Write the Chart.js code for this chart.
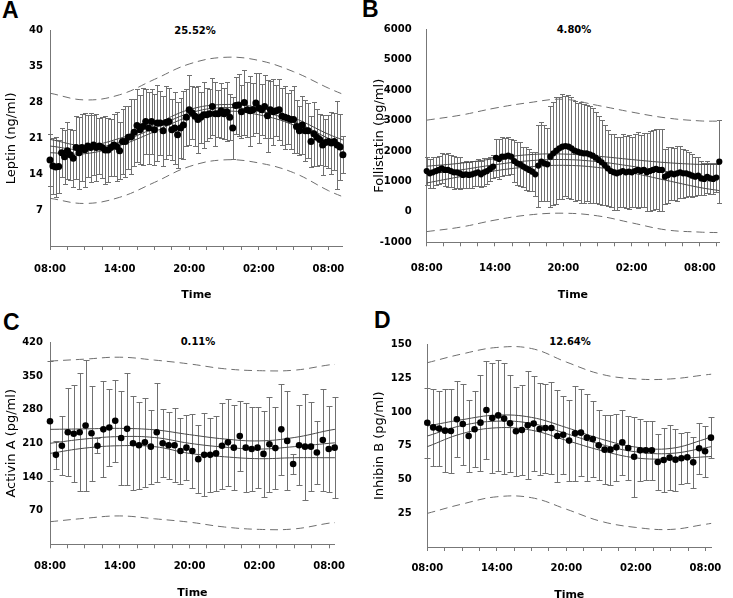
<!DOCTYPE html>
<html><head><meta charset="utf-8">
<script src="https://cdn.jsdelivr.net/npm/chart.js@4.4.1/dist/chart.umd.min.js"></script>
<style>
html,body{margin:0;padding:0;background:#fff;overflow:hidden;width:733px;height:598px;position:relative;}
canvas{position:absolute;}
.letter{position:absolute;font-family:'Liberation Sans',Arial,sans-serif;font-weight:bold;font-size:23px;line-height:1;color:#000;}
.pct{position:absolute;font-family:'DejaVu Sans',sans-serif;font-size:10px;font-weight:bold;transform:translate(-50%,-50%);white-space:nowrap;color:#000;}
</style></head><body>
<div class="letter" style="left:2px;top:-1px">A</div>
<div class="letter" style="left:362px;top:-2px">B</div>
<div class="letter" style="left:3px;top:311px">C</div>
<div class="letter" style="left:374px;top:309px">D</div>
<div class="pct" style="left:195px;top:30px">25.52%</div>
<div class="pct" style="left:574px;top:29px">4.80%</div>
<div class="pct" style="left:198px;top:341px">0.11%</div>
<div class="pct" style="left:570px;top:341px">12.64%</div>
<script>
// ---------- shared axis labels ----------
const timeLabels = ['08:00','14:00','20:00','02:00','08:00'];
const xTickHours = [0,1.5,3,4.5,6,7.5,9,10.5,12,13.5,15,16.5,18,19.5,21,22.5,24,25.5];

// ---------- A: Leptin ----------
const leptinTitle = 'Leptin (ng/ml)';
const leptinYTicks = [0,7,14,21,28,35,42];
const leptinYLabels = ['','7','14','21','28','35','40'];
const leptinStep = 0.25;
const leptinMean = [16.8,15.6,15.4,15.5,18.2,17.4,18.6,17.8,17.1,19.2,18.2,19.2,18.8,19.5,19.2,19.7,19.2,19.5,19.2,18.75,18.75,19.2,19.7,19.4,18.6,20.4,20.4,21.2,21.3,22.2,23.5,22.7,23.3,24.3,
 23.0,24.3,22.7,24.0,24.0,22.5,24.1,24.3,22.7,23.0,21.7,23.0,23.6,25.1,26.6,26.0,25.3,24.7,25.1,25.6,25.6,25.8,27.2,25.8,25.8,26.4,25.8,26.2,25.1,23.0,27.4,27.5,26.2,28.0,
 26.6,26.4,26.6,27.9,26.9,26.6,27.2,25.4,26.6,26.2,26.4,26.6,25.3,25.1,24.9,24.7,24.7,23.3,22.5,23.6,22.5,22.5,20.4,21.9,21.2,20.8,19.7,20.2,20.4,20.1,20.4,19.7,19.3,17.8];
const leptinSD = [5.0,5.4,5.8,5.2,4.8,5.3,5.6,5.0,5.5,6.2,7.0,6.5,7.2,6.0,6.8,5.8,6.5,5.5,6.0,6.6,6.2,5.5,6.0,6.8,5.6,6.4,7.0,6.2,7.3,6.5,
 7.2,6.8,7.5,6.4,7.0,6.3,6.9,7.4,6.2,6.8,7.2,6.5,6.0,7.0,6.4,5.8,6.6,5.5,6.8,5.2,5.8,6.5,5.0,6.4,5.2,4.8,5.5,6.2,4.6,5.4,
 5.0,5.8,4.5,6.0,5.5,6.0,5.2,6.3,5.4,6.8,5.2,5.8,6.8,5.0,6.2,7.0,5.5,6.4,5.0,6.0,5.5,6.2,5.0,5.8,6.5,5.2,4.8,5.6,6.0,5.4,
 5.0,6.2,5.5,5.0,5.8,4.5,5.2,6.0,5.6,8.5,6.5,3.6];
const leptinFitHours = [0,3,6,9,12,15,18,21,24,25.25];
const leptinCIUpper = [20.8,19.6,21.0,23.7,26.6,27.6,27.0,25.0,21.8,20.7];
const leptinFit = [19.5,18.8,20.3,23.0,25.9,27.0,26.3,24.3,21.0,19.8];
const leptinCILower = [18.2,18.0,19.6,22.3,25.2,26.3,25.6,23.6,20.2,18.9];
const leptinPBUpper = [29.8,28.5,29.5,32.5,35.5,36.8,36.2,34.0,30.8,29.6];
const leptinPBLower = [9.3,8.3,9.5,12.4,15.5,16.8,16.2,14.3,10.8,9.6];

// ---------- B: Follistatin ----------
const follTitle = 'Follistatin (pg/ml)';
const follYTicks = [-1000,0,1000,2000,3000,4000,5000,6000];
const follYLabels = ['-1000','0','1000','2000','3000','4000','5000','6000'];
const follStep = 0.265;
const follMean = [1340,1268,1300,1340,1377,1432,1377,1377,1340,1300,1300,1268,1213,1235,1213,1235,1268,1300,1235,1300,1340,1410,1486,1778,1740,1815,1815,1848,1815,
 1672,1596,1563,1487,1432,1377,1321,1235,1520,1651,1596,1563,1815,1925,2012,2089,2143,2165,2143,2089,2012,1980,1947,1925,1925,1892,1848,1782,1706,1629,1541,1432,1344,1300,1268,
 1300,1344,1300,1321,1300,1344,1377,1344,1377,1300,1344,1377,1410,1377,1377,1158,1213,1268,1235,1268,1300,1268,1268,1235,1190,1158,1190,1100,1082,1150,1100,1082,1130,1651];
const follSD = [470,480,500,460,470,490,540,560,520,540,500,520,430,450,420,440,410,450,430,460,420,400,380,620,660,640,600,620,580,
 680,700,720,660,700,680,650,720,1350,1300,1250,1200,1650,1700,1750,1680,1720,1650,1700,1680,1640,1600,1650,1620,1580,1600,1550,1500,1450,1400,1300,1250,1200,1250,1200,
 1150,1200,1180,1220,1150,1200,1250,1180,1230,1280,1300,1330,1320,1350,1340,900,920,880,860,900,850,800,780,720,700,650,620,560,540,520,500,510,480,1360];
const follFitHours = [0,3,6,9,12,15,18,21,24,25.7];
const follCIUpper = [1500,1600,1750,1880,1900,1830,1720,1620,1560,1560];
const follFit = [1230,1380,1550,1680,1720,1650,1500,1330,1180,1120];
const follCILower = [950,1160,1350,1480,1530,1460,1280,1040,800,700];
const follPBUpper = [3014,3180,3410,3590,3700,3500,3280,3090,2990,2981];
const follPBLower = [-649,-500,-270,-100,-44,-130,-360,-590,-665,-682];

// ---------- C: Activin A ----------
const actTitle = 'Activin A (pg/ml)';
const actYTicks = [0,70,140,210,280,350,420];
const actYLabels = ['','70','140','210','280','350','420'];
const actStep = 0.51;
const actMean = [256,186,205,233,230,233,247,231,205,239,243,257,221,240,210,206,212,203,
 233,210,206,206,194,201,194,177,186,186,189,205,212,201,225,201,198,201,
 188,208,200,239,215,167,206,203,203,191,217,198,201];
const actSD = [125,29,61,92,101,123,136,99,15,100,80,85,97,116,98,90,92,77,
 103,71,70,77,69,67,76,71,86,77,78,89,90,88,72,92,88,84,
 90,99,85,94,103,20,83,110,92,66,106,90,105];
const actFitHours = [0,3,6,9,12,15,18,21,24,24.5];
const actCIUpper = [239,240,241,238,228,219,215,222,237,239];
const actFit = [210,219,224,222,210,202,198,203,210,211];
const actCILower = [189,200,205,203,189,182,178,180,180,180];
const actPBUpper = [381,385,389,383,375,365,361,362,373,374];
const actPBLower = [47,54,59,53,46,36,31,32,44,45];

// ---------- D: Inhibin B ----------
const inhTitle = 'Inhibin B (pg/ml)';
const inhYTicks = [0,25,50,75,100,125,150];
const inhYLabels = ['','25','50','75','100','125','150'];
const inhStep = 0.51;
const inhMean = [92,88.6,87.7,86.2,85.9,94.6,91.1,82.2,87.2,92.1,101.5,95.6,97.5,95.1,91.6,85.7,86.7,90.1,91.4,87.4,
 88.1,88.1,82.2,83.2,78.8,84.2,84.7,81,80,75.3,72.1,72.1,73.8,77.5,73.3,66.9,71.6,71.6,71.6,63,
 64.4,66.2,64.7,65.7,66.4,62.7,73.1,70.9,81];
const inhSD = [26,28.6,27.5,31,31,28,30,27,28,35.5,36,41,41,41,36,33,33,40,35,34,
 33,34,34,29,30,35,32,32,28,26,25.5,26,25,24,24,29.5,23,22,21.6,21,
 24,24,23,19,19,19,19,19,15];
const inhFitHours = [0,3,6,9,12,15,18,21,24,24.5];
const inhCIUpper = [89.6,94.3,97.7,96,88.5,80,74,73,80,82];
const inhFit = [82.2,90,93.2,91.5,84,76,70.5,69.3,73.5,74.3];
const inhCILower = [74.3,84,88.3,86.5,79,71.5,66,65.3,66.8,67];
const inhPBUpper = [136.5,143,147.8,147,137,128,124.5,124.5,127.5,128];
const inhPBLower = [24.9,31.8,37.2,36.5,28,19,14.5,13,16.8,17.5];

// ---------- drawing ----------
const errorBarPlugin = {
  id: 'errorBars',
  beforeDatasetsDraw(chart) {
    const ds = chart.data.datasets[0];
    if (!ds.sd) return;
    const {ctx} = chart, xs = chart.scales.x, ys = chart.scales.y;
    const cap = ds.capHalf;
    ctx.save();
    ctx.strokeStyle = '#707070';
    ctx.lineWidth = 1;
    ctx.beginPath();
    ds.data.forEach((p, i) => {
      const px = Math.round(xs.getPixelForValue(p.x)) + 0.5;
      const y1 = Math.round(ys.getPixelForValue(p.y + ds.sd[i])) + 0.5;
      const y2 = Math.round(ys.getPixelForValue(p.y - ds.sd[i])) + 0.5;
      ctx.moveTo(px, y1); ctx.lineTo(px, y2);
      ctx.moveTo(px - cap, y1); ctx.lineTo(px + cap, y1);
      ctx.moveTo(px - cap, y2); ctx.lineTo(px + cap, y2);
    });
    ctx.stroke();
    ctx.restore();
  }
};

const FONT = "'DejaVu Sans', sans-serif";
function pairs(xs, ys) { return xs.map((x, i) => ({x: x, y: ys[i]})); }
function curve(data, dashed) {
  return {type: 'line', data: data, borderColor: dashed ? '#6e6e6e' : '#4a4a4a', borderWidth: 1,
    borderDash: dashed ? [8, 5] : [], pointRadius: 0, tension: 0.4, fill: false,
    order: dashed ? 2 : 1, clip: false};
}

function panel(o) {
  const cv = document.createElement('canvas');
  cv.width = o.cw; cv.height = o.ch;
  cv.style.left = o.cx + 'px'; cv.style.top = o.cy + 'px';
  document.body.appendChild(cv);
  const pts = o.mean.map((m, i) => ({x: i * o.step, y: m}));
  new Chart(cv, {
    type: 'scatter',
    data: {datasets: [
      {data: pts, sd: o.sd, capHalf: o.cap, pointRadius: o.rad, pointBackgroundColor: '#000',
        pointBorderWidth: 0, pointBorderColor: '#000', showLine: false, order: 0, clip: false},
      curve(pairs(o.fitT, o.ciUp), false),
      curve(pairs(o.fitT, o.fit), false),
      curve(pairs(o.fitT, o.ciLo), false),
      curve(pairs(o.fitT, o.pbUp), true),
      curve(pairs(o.fitT, o.pbLo), true)
    ]},
    options: {
      responsive: false, animation: false, events: [],
      layout: {padding: {left: 0, top: o.t - o.cy, right: o.cx + o.cw - o.r, bottom: 0}},
      plugins: {legend: {display: false}, tooltip: {enabled: false}},
      scales: {
        x: {
          type: 'linear', min: 0, max: o.xmax, bounds: 'data',
          afterFit: s => { s.height = o.cy + o.ch - o.b; },
          afterBuildTicks: s => { s.ticks = xTickHours.filter(v => v <= o.xmax).map(v => ({value: v})); },
          ticks: {autoSkip: false, maxRotation: 0, padding: o.xtp, color: '#000',
            font: {family: FONT, size: 10, weight: 'bold'},
            callback: v => (v % 6 === 0 ? timeLabels[v / 6] : '')},
          grid: {drawOnChartArea: false, drawTicks: true, tickLength: 4, color: '#777'},
          border: {display: true, color: '#777', width: 1},
          title: {display: true, text: 'Time', color: '#000',
            font: {family: FONT, size: 11, weight: 'bold'}, padding: {top: 0, bottom: o.ttp}}
        },
        y: {
          type: 'linear', min: o.yTicks[0], max: o.yTicks[o.yTicks.length - 1], bounds: 'data',
          afterFit: s => { s.width = o.l - o.cx; },
          afterBuildTicks: s => { s.ticks = o.yTicks.map(v => ({value: v})); },
          ticks: {autoSkip: false, padding: o.ytp, color: '#000',
            font: {family: FONT, size: 10, weight: 'bold'},
            callback: (v, i) => o.yLabels[i]},
          grid: {display: false, drawTicks: false},
          border: {display: true, color: '#777', width: 1},
          title: {display: true, text: o.title, color: '#000',
            font: {family: FONT, size: 13}, padding: {top: o.ytt, bottom: 0}}
        }
      }
    },
    plugins: [errorBarPlugin]
  });
}

panel({cx: 0, cy: 0, cw: 366, ch: 310, l: 50, t: 30.7, r: 342.9, b: 246, xmax: 25.25,
  xtp: 13, ttp: 8.4, ytp: 7, ytt: 4.2, rad: 3.5, cap: 2.5,
  title: leptinTitle, yTicks: leptinYTicks, yLabels: leptinYLabels, step: leptinStep,
  mean: leptinMean, sd: leptinSD, fitT: leptinFitHours, ciUp: leptinCIUpper, fit: leptinFit,
  ciLo: leptinCILower, pbUp: leptinPBUpper, pbLo: leptinPBLower});

panel({cx: 366, cy: 0, cw: 367, ch: 310, l: 426.7, t: 29.3, r: 728.2, b: 242.3, xmax: 25.7,
  xtp: 16, ttp: 8.4, ytp: 15, ytt: 6.2, rad: 3.1, cap: 2.5,
  title: follTitle, yTicks: follYTicks, yLabels: follYLabels, step: follStep,
  mean: follMean, sd: follSD, fitT: follFitHours, ciUp: follCIUpper, fit: follFit,
  ciLo: follCILower, pbUp: follPBUpper, pbLo: follPBLower});

panel({cx: 0, cy: 300, cw: 366, ch: 310, l: 50, t: 342.3, r: 334.9, b: 544.3, xmax: 24.5,
  xtp: 12.4, ttp: 10.7, ytp: 7, ytt: 4.2, rad: 3.3, cap: 3,
  title: actTitle, yTicks: actYTicks, yLabels: actYLabels, step: actStep,
  mean: actMean, sd: actSD, fitT: actFitHours, ciUp: actCIUpper, fit: actFit,
  ciLo: actCILower, pbUp: actPBUpper, pbLo: actPBLower});

panel({cx: 366, cy: 300, cw: 367, ch: 310, l: 427.3, t: 344.5, r: 713.2, b: 547, xmax: 24.5,
  xtp: 11.3, ttp: 8.4, ytp: 15.6, ytt: 6.2, rad: 3.3, cap: 3,
  title: inhTitle, yTicks: inhYTicks, yLabels: inhYLabels, step: inhStep,
  mean: inhMean, sd: inhSD, fitT: inhFitHours, ciUp: inhCIUpper, fit: inhFit,
  ciLo: inhCILower, pbUp: inhPBUpper, pbLo: inhPBLower});
</script>
</body></html>
